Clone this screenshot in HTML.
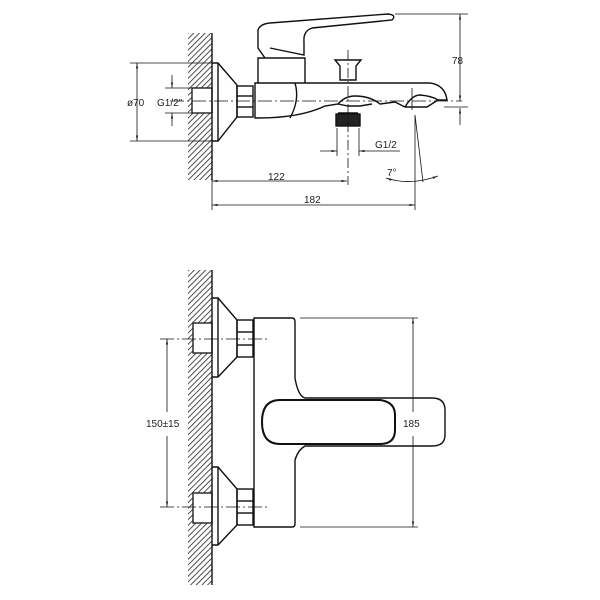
<!DOCTYPE html>
<html><head><style>html,body{margin:0;padding:0;background:#fff}svg{display:block}</style></head><body>
<svg width="600" height="600" viewBox="0 0 600 600" xmlns="http://www.w3.org/2000/svg" font-family="Liberation Sans, sans-serif">
<defs>
<pattern id="h" width="4" height="4" patternUnits="userSpaceOnUse" patternTransform="rotate(45)">
<line x1="0" y1="0" x2="0" y2="4" stroke="#222" stroke-width="1.6"/>
</pattern>
<marker id="a" viewBox="0 0 10 10" refX="10" refY="5" markerWidth="7" markerHeight="7" orient="auto-start-reverse"><path d="M0,3 L10,5 L0,7z" fill="#222"/></marker>
</defs>
<g fill="none" stroke="#111" stroke-width="1.4">
<!-- TOP VIEW -->
<rect x="188" y="33" width="24" height="147" fill="url(#h)" stroke="none"/>
<rect x="192" y="88" width="20" height="25" fill="#fff" stroke="#222"/>
<line x1="212" y1="33" x2="212" y2="180"/>
<path d="M212,63 L218,63 L237,85 L237,117 L218,141 L212,141"/>
<line x1="218" y1="63" x2="218" y2="141"/>
<rect x="237" y="86" width="16" height="31"/>
<line x1="237" y1="96" x2="253" y2="96"/><line x1="237" y1="107" x2="253" y2="107"/>
<path d="M255,83 L295,83 L430,83 Q445,85 447,100 L438,100 L427,107 L405,107 L395,102 L380,104 Q370,96 355,96 Q345,96 338,104 L325,106 Q300,118 258,118 L255,118 Z"/>
<path d="M295,83 Q300,100 290,118"/>
<path d="M405,107 Q412,95 420,95 Q432,96 438,100"/>
<path d="M338,104 L348,106 L360,106 L372,104"/>
<path d="M258,83 L258,58 L305,58 L305,83"/>
<path d="M265,58 L258,48 L258,30 Q260,24 270,23 L388,14 Q397,15 392,20 L312,28 Q303,31 304,42 L304,55 L270,48"/>
<path d="M335,60 L361,60 L356,66 L356,80 L340,80 L340,66 Z"/>
<rect x="336" y="114" width="24" height="12" fill="#222"/>
<line x1="338" y1="113" x2="358" y2="113"/>
<g stroke-width="0.8">
<line x1="170" y1="101" x2="462" y2="101" stroke-dasharray="14,3,2,3"/>
<line x1="348" y1="50" x2="348" y2="185" stroke-dasharray="10,3,2,3"/>
<line x1="412" y1="88" x2="412" y2="110"/>
<line x1="130" y1="63" x2="212" y2="63"/><line x1="130" y1="141" x2="212" y2="141"/>
<line x1="137" y1="63" x2="137" y2="141" marker-start="url(#a)" marker-end="url(#a)"/>
<line x1="165" y1="88" x2="192" y2="88"/><line x1="165" y1="113" x2="192" y2="113"/>
<line x1="172" y1="75" x2="172" y2="88" marker-end="url(#a)"/><line x1="172" y1="126" x2="172" y2="113" marker-end="url(#a)"/>
<line x1="395" y1="14" x2="468" y2="14"/>
<line x1="460" y1="14" x2="460" y2="101" marker-start="url(#a)" marker-end="url(#a)"/>
<line x1="460" y1="125" x2="460" y2="108" marker-end="url(#a)"/>
<line x1="444" y1="107" x2="468" y2="107"/>
<line x1="337" y1="128" x2="337" y2="156"/><line x1="359" y1="128" x2="359" y2="156"/>
<line x1="320" y1="151" x2="337" y2="151" marker-end="url(#a)"/><line x1="400" y1="151" x2="359" y2="151" marker-end="url(#a)"/>
<line x1="212" y1="180" x2="212" y2="210"/>
<line x1="212" y1="181" x2="347" y2="181" marker-start="url(#a)" marker-end="url(#a)"/>
<line x1="415" y1="115" x2="415" y2="210"/>
<line x1="212" y1="205" x2="415" y2="205" marker-start="url(#a)" marker-end="url(#a)"/>
<line x1="415" y1="115" x2="423" y2="182"/>
<path d="M386,178 Q410,186 438,176" marker-start="url(#a)" marker-end="url(#a)"/>
</g>
<!-- BOTTOM VIEW -->
<rect x="188" y="270" width="24" height="315" fill="url(#h)" stroke="none"/>
<rect x="193" y="323" width="19" height="30" fill="#fff" stroke="#222"/>
<rect x="193" y="493" width="19" height="30" fill="#fff" stroke="#222"/>
<line x1="212" y1="270" x2="212" y2="585"/>
<path d="M212,298 L218,298 L237,320 L237,357 L218,377 L212,377"/>
<line x1="218" y1="298" x2="218" y2="377"/>
<rect x="237" y="320" width="16" height="37"/>
<line x1="237" y1="332" x2="253" y2="332"/><line x1="237" y1="345" x2="253" y2="345"/>
<path d="M212,467 L218,467 L237,489 L237,525 L218,545 L212,545"/>
<line x1="218" y1="467" x2="218" y2="545"/>
<rect x="237" y="489" width="16" height="36"/>
<line x1="237" y1="501" x2="253" y2="501"/><line x1="237" y1="513" x2="253" y2="513"/>
<path d="M254,318 L292,318 Q295,318 295,322 L295,378 Q298,396 305,398 L432,398 Q445,398 445,410 L445,435 Q445,446 432,446 L305,446 Q298,450 295,460 L295,524 Q295,527 292,527 L254,527 Z"/>
<path d="M280,400 L380,400 Q395,402 395,415 L395,430 Q395,444 380,444 L280,444 Q262,444 262,422 Q262,400 280,400 Z" stroke-width="2"/>
<g stroke-width="0.8">
<line x1="160" y1="339" x2="267" y2="339" stroke-dasharray="14,3,2,3"/>
<line x1="160" y1="507" x2="267" y2="507" stroke-dasharray="14,3,2,3"/>
<line x1="167" y1="339" x2="167" y2="412" marker-start="url(#a)"/>
<line x1="167" y1="436" x2="167" y2="507" marker-end="url(#a)"/>
<line x1="300" y1="318" x2="418" y2="318"/><line x1="300" y1="527" x2="418" y2="527"/>
<line x1="413" y1="318" x2="413" y2="412" marker-start="url(#a)"/>
<line x1="413" y1="436" x2="413" y2="527" marker-end="url(#a)"/>
</g>
</g>
<g fill="#222" font-size="10">
<text x="127" y="106">ø70</text>
<text x="157" y="106">G1/2"</text>
<text x="452" y="64">78</text>
<text x="375" y="148">G1/2</text>
<text x="387" y="176">7°</text>
<text x="268" y="180">122</text>
<text x="304" y="203">182</text>
<text x="146" y="427">150±15</text>
<text x="403" y="427">185</text>
</g>
</svg>
</body></html>
